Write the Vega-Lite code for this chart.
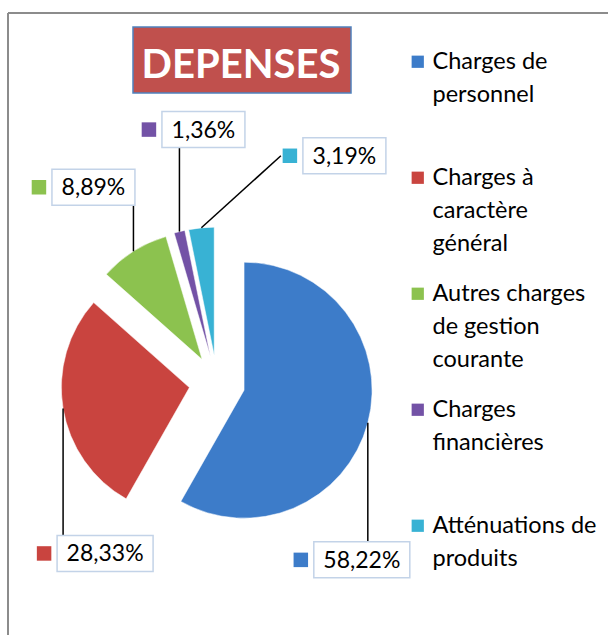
{
  "$schema": "https://vega.github.io/schema/vega-lite/v6.json",
  "width": 600,
  "height": 622,
  "autosize": {"type": "none"},
  "padding": {"left": 8, "top": 13, "right": 0, "bottom": 0},
  "background": "#ffffff",
  "config": {
    "font": "Lato",
    "view": {"stroke": null},
    "style": {"guide-label": {"lineHeight": 33}},
    "legend": {"labelFont": "Lato", "labelFontSize": 23.5, "labelColor": "#000000", "labelLimit": 400}
  },
  "layer": [
    {
      "data": {"values": [{}]},
      "mark": {"type": "rule", "stroke": "#8c8c8c", "strokeWidth": 2},
      "encoding": {"x": {"value": 0}, "y": {"value": 0}, "y2": {"value": 622}}
    },
    {
      "data": {"values": [{}]},
      "mark": {"type": "rule", "stroke": "#8c8c8c", "strokeWidth": 2},
      "encoding": {"x": {"value": 0}, "x2": {"value": 600}, "y": {"value": 0}}
    },
    {
      "data": {
        "values": [
          {"cat": "Charges de personnel", "pct": 58.22, "k": 1},
          {"cat": "Charges à caractère général", "pct": 28.33, "k": 2},
          {"cat": "Autres charges de gestion courante", "pct": 8.89, "k": 3},
          {"cat": "Charges financières", "pct": 1.36, "k": 4},
          {"cat": "Atténuations de produits", "pct": 3.19, "k": 5}
        ]
      },
      "transform": [
        {"stack": "pct", "groupby": [], "sort": [{"field": "k", "order": "ascending"}], "offset": "normalize", "as": ["v0", "v1"]}
      ],
      "layer": [
        {
          "mark": {
            "type": "arc",
            "radius": 128,
            "x": {"expr": "209+28*sin(PI*(datum.v0+datum.v1))"},
            "y": {"expr": "370-28*cos(PI*(datum.v0+datum.v1))"},
            "stroke": "#ffffff",
            "strokeWidth": 0.5
          },
          "encoding": {
            "theta": {"field": "v0", "type": "quantitative", "scale": {"domain": [0, 1]}},
            "theta2": {"field": "v1"},
            "color": {
              "field": "cat",
              "type": "nominal",
              "scale": {
                "domain": ["Charges de personnel", "Charges à caractère général", "Autres charges de gestion courante", "Charges financières", "Atténuations de produits"],
                "range": ["#3d7cc9", "#c9443f", "#8cc24f", "#7352a6", "#38b2d4"]
              },
              "legend": {
                "orient": "none",
                "legendX": 398,
                "legendY": 37,
                "title": null,
                "symbolType": "square",
                "symbolSize": 150,
                "symbolStrokeWidth": 0,
                "rowPadding": 25,
                "labelOffset": 3,
                "labelExpr": "datum.label=='Charges de personnel'?['Charges de','personnel',' ']:datum.label=='Charges à caractère général'?['Charges à','caractère','général']:datum.label=='Autres charges de gestion courante'?['Autres charges','de gestion','courante']:datum.label=='Charges financières'?['Charges','financières',' ']:['Atténuations de','produits',' ']"
              }
            }
          }
        },
        {
          "mark": {"type": "rule", "stroke": "#000000", "strokeWidth": 1.5},
          "encoding": {
            "x": {"value": {"expr": "(209+156*sin(PI*(datum.v0+datum.v1)))"}},
            "y": {"value": {"expr": "(370-156*cos(PI*(datum.v0+datum.v1)))"}},
            "x2": {"value": {"expr": "abs([-6,42,-40,24,143][datum.k-1])<(datum.pct>=10?48:41.5)?(209+156*sin(PI*(datum.v0+datum.v1))):(209+156*sin(PI*(datum.v0+datum.v1)))+[-6,42,-40,24,143][datum.k-1]-(datum.pct>=10?48:41.5)-22"}},
            "y2": {"value": {"expr": "abs([-6,42,-40,24,143][datum.k-1])<(datum.pct>=10?48:41.5)?((370-156*cos(PI*(datum.v0+datum.v1)))+[137,145,-64,-102,-72][datum.k-1]+([137,145,-64,-102,-72][datum.k-1]>0?-18:18)):(370-156*cos(PI*(datum.v0+datum.v1)))+[137,145,-64,-102,-72][datum.k-1]"}}
          }
        },
        {
          "mark": {
            "type": "rect",
            "fill": "#ffffff",
            "stroke": "#c3d3e8",
            "strokeWidth": 1.5,
            "x": {"expr": "(209+156*sin(PI*(datum.v0+datum.v1)))+[-6,42,-40,24,143][datum.k-1]-(datum.pct>=10?48:41.5)"},
            "x2": {"expr": "(209+156*sin(PI*(datum.v0+datum.v1)))+[-6,42,-40,24,143][datum.k-1]+(datum.pct>=10?48:41.5)"},
            "y": {"expr": "(370-156*cos(PI*(datum.v0+datum.v1)))+[137,145,-64,-102,-72][datum.k-1]-18"},
            "y2": {"expr": "(370-156*cos(PI*(datum.v0+datum.v1)))+[137,145,-64,-102,-72][datum.k-1]+18"}
          },
          "encoding": {}
        },
        {
          "mark": {
            "type": "point",
            "shape": "square",
            "filled": true,
            "size": 210,
            "opacity": 1,
            "x": {"expr": "(209+156*sin(PI*(datum.v0+datum.v1)))+[-6,42,-40,24,143][datum.k-1]-(datum.pct>=10?48:41.5)-13"},
            "y": {"expr": "(370-156*cos(PI*(datum.v0+datum.v1)))+[137,145,-64,-102,-72][datum.k-1]"}
          },
          "encoding": {
            "color": {"field": "cat", "type": "nominal"}
          }
        },
        {
          "mark": {
            "type": "text",
            "font": "Lato",
            "fontSize": 23,
            "color": "#000000",
            "align": "center",
            "baseline": "middle",
            "text": {"expr": "replace(format(datum.pct,'.2f'),'.',',')+'%'"},
            "x": {"expr": "(209+156*sin(PI*(datum.v0+datum.v1)))+[-6,42,-40,24,143][datum.k-1]"},
            "y": {"expr": "(370-156*cos(PI*(datum.v0+datum.v1)))+[137,145,-64,-102,-72][datum.k-1]+1"}
          },
          "encoding": {}
        }
      ]
    },
    {
      "data": {"values": [{}]},
      "mark": {"type": "rect", "x": 125, "x2": 343, "y": 14, "y2": 80, "fill": "#c0504d", "stroke": "#4f81bd", "strokeWidth": 1.5},
      "encoding": {}
    },
    {
      "data": {"values": [{}]},
      "mark": {"type": "text", "text": "DEPENSES", "x": 233, "y": 65, "align": "center", "baseline": "alphabetic", "font": "Lato", "fontWeight": "bold", "fontSize": 40, "color": "#ffffff"},
      "encoding": {}
    }
  ]
}
